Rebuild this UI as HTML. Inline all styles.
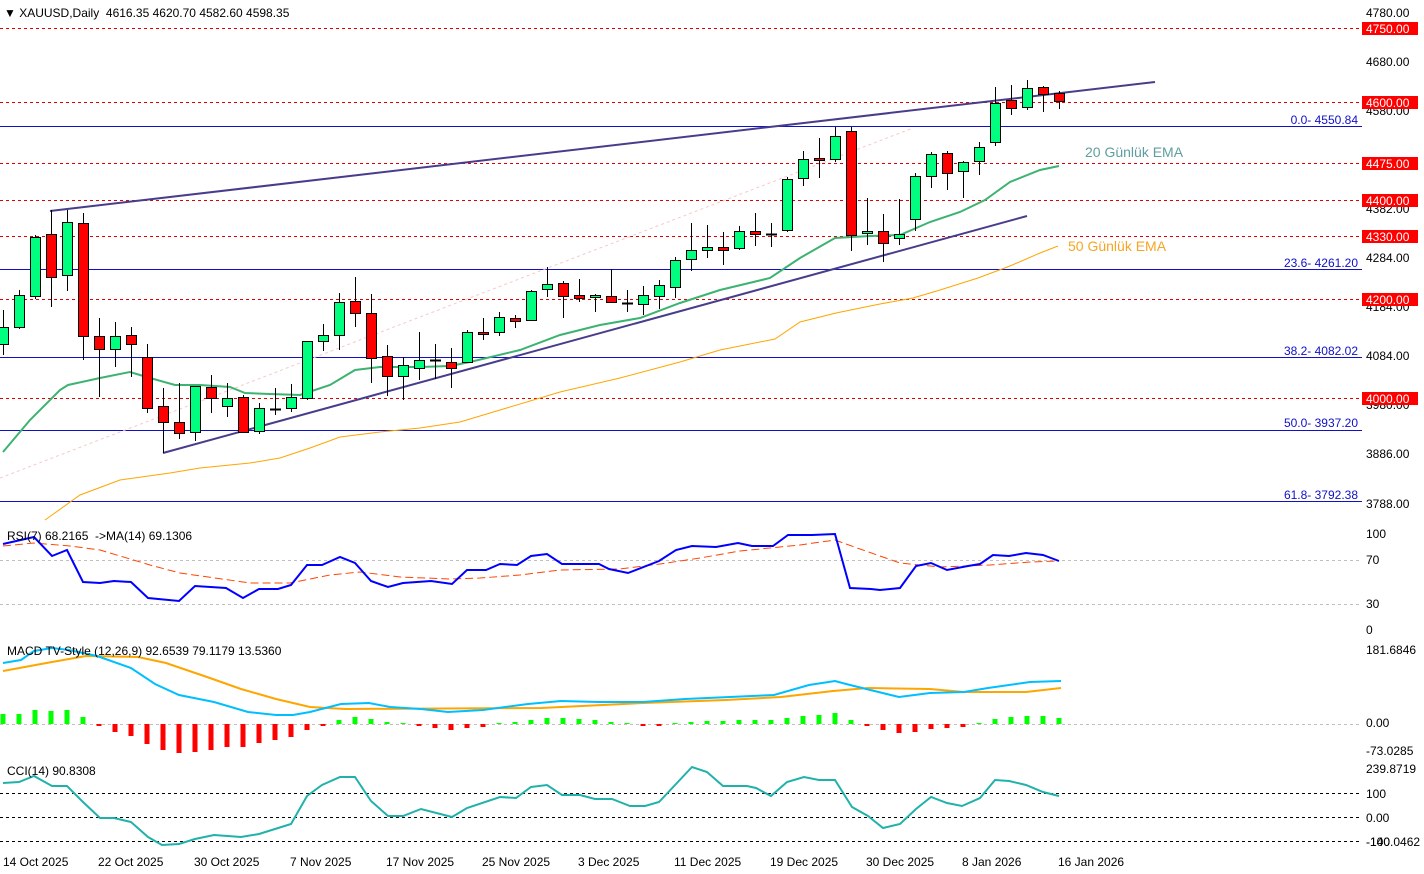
<!DOCTYPE html>
<html><head><meta charset="utf-8"><style>
html,body{margin:0;padding:0;background:#fff;}
svg{display:block;font-family:"Liberation Sans",sans-serif;}
</style></head><body>
<svg id="s" width="1424" height="874" xmlns="http://www.w3.org/2000/svg">
<rect width="1424" height="874" fill="#fff"/>
<g id="g"></g>
</svg>
<script>
const g=document.getElementById('g');let h='';
function pl(pts,c,w,extra){h+=`<polyline points="${pts.map(p=>p.join(',')).join(' ')}" fill="none" stroke="${c}" stroke-width="${w}" ${extra||''}/>`;}
function ln(x1,y1,x2,y2,c,w,extra){h+=`<line x1="${x1}" y1="${y1}" x2="${x2}" y2="${y2}" stroke="${c}" stroke-width="${w}" ${extra||''}/>`;}
function tx(x,y,t,c,s,extra){h+=`<text x="${x}" y="${y}" fill="${c||'#000'}" font-size="${s||12}" ${extra||''}>${t}</text>`;}
[28,102,163,200,236,299,398].forEach(y=>ln(0,y+.5,1362,y+.5,'#e00000',1,'stroke-dasharray="3,3"'));
[126,269,357,430,501].forEach(y=>ln(0,y+.5,1362,y+.5,'#1010c8',1));
ln(0,478,913,128,'#f7c8c8',1,'stroke-dasharray="3,3"');
pl([[3,452],[30,420],[60,390],[68,385],[100,378],[130,372],[150,378],[175,385],[200,385],[230,387],[245,393],[270,394],[300,395],[330,385],[355,370],[380,367],[420,367],[450,366],[470,362],[520,350],[560,335],[600,325],[640,318],[680,303],[720,290],[770,278],[800,258],[835,238],[870,236],[900,235],[930,222],[960,212],[985,200],[1010,182],[1040,170],[1059,166]],'#3cb371',2);
pl([[45,520],[80,495],[120,480],[170,473],[200,468],[250,463],[280,458],[310,448],[340,437],[380,432],[420,428],[460,422],[500,410],[560,392],[620,378],[680,362],[720,350],[775,339],[800,322],[836,313],[880,304],[913,298],[940,290],[978,278],[1010,266],[1040,253],[1058,246]],'#ffa500',1);
ln(50,211,1155,82,'#483d8b',2);ln(163,453,1027,216,'#483d8b',2);
const C=[[344,327,310,355],[327,295,290,329],[296,237,235,299],[234,277,210,307],[275,222,210,291],[223,336,213,360],[336,349,318,397],[349,336,322,367],[335,344,327,377],[357,408,344,413],[406,422,388,453],[422,433,383,439],[432,386,386,441],[387,398,375,413],[406,398,383,417],[397,432,395,432],[431,408,403,434],[409,409,388,415],[408,397,384,412],[398,341,341,400],[341,335,324,351],[335,302,293,350],[301,313,277,327],[313,358,294,383],[356,376,345,396],[376,365,357,400],[368,360,332,380],[360,360,344,379],[362,368,348,388],[362,332,330,363],[332,334,318,340],[332,317,312,336],[318,321,315,328],[320,291,290,321],[289,284,267,297],[283,296,281,318],[295,298,279,302],[297,295,294,312],[296,302,269,303],[303,303,290,312],[304,295,286,315],[296,285,280,309],[287,260,257,298],[259,250,223,271],[250,247,225,258],[247,250,232,265],[248,231,226,250],[231,234,213,246],[234,234,223,247],[230,179,177,232],[178,159,151,186],[158,160,138,178],[159,136,127,162],[131,235,127,251],[233,231,198,245],[231,243,214,262],[238,234,199,245],[219,176,173,231],[176,154,152,188],[153,173,151,190],[171,162,161,198],[161,147,142,175],[142,103,87,146],[100,108,85,115],[107,88,80,110],[87,94,86,112],[93,101,91,109]];
C.forEach((c,k)=>{const x=3+16*k;const[o,cl,hi,lo]=c;ln(x+.5,hi,x+.5,lo,'#000',1);
 const t=Math.min(o,cl),b=Math.max(o,cl);if(b-t<1){ln(x-5,t+.5,x+6,t+.5,'#000',2);}else{h+=`<rect x="${x-4.5}" y="${t+.5}" width="10" height="${b-t}" fill="${cl<o?'#00ff7f':'#ff0000'}" stroke="#000" stroke-width="1"/>`;}});
tx(1085,157,'20 Günlük EMA','#5f9ea0',14);tx(1068,251,'50 Günlük EMA','#f5a623',14);
[['0.0- 4550.84',124],['23.6- 4261.20',267],['38.2- 4082.02',355],['50.0- 3937.20',427],['61.8- 3792.38',499]].forEach(a=>tx(1358,a[1],a[0],'#1010c8',12,'text-anchor="end"'));
[['4780.00',17],['4680.00',66],['4580.00',115],['4382.00',213],['4284.00',262],['4184.00',311],['4084.00',360],['3980.00',409],['3886.00',458],['3788.00',508]].forEach(a=>tx(1366,a[1],a[0],'#000',12));
[['4750.00',28],['4600.00',102],['4475.00',163],['4400.00',200],['4330.00',236],['4200.00',299],['4000.00',398]].forEach(a=>{h+=`<rect x="1362" y="${a[1]-6}" width="56" height="13" fill="#ff0000"/>`;tx(1366,a[1]+5,a[0],'#fff',12);});
tx(4,17,'▼ XAUUSD,Daily  4616.35 4620.70 4582.60 4598.35','#000',12,'xml:space="preserve"');
ln(0,560.5,1362,560.5,'#c0c0c0',1,'stroke-dasharray="3,3"');ln(0,604.5,1362,604.5,'#c0c0c0',1,'stroke-dasharray="3,3"');
pl([[3,546],[34,543],[70,546],[100,550],[150,565],[180,573],[250,583],[290,583],[330,575],[360,572],[400,577],[450,579],[480,578],[520,575],[560,570],[620,569],[660,564],[700,558],[740,551],[800,545],[835,540],[860,549],[900,563],[940,567],[990,565],[1030,562],[1059,561]],'#ff4500',1,'stroke-dasharray="8,4"');
pl([[3,544],[34,537],[52,556],[67,550],[83,582],[100,583],[114,581],[131,582],[148,598],[179,601],[195,586],[226,588],[243,598],[259,589],[278,589],[291,585],[307,565],[322,565],[340,557],[355,563],[371,581],[388,587],[403,583],[431,581],[452,584],[467,570],[486,570],[500,564],[517,565],[531,556],[547,554],[562,564],[599,564],[609,569],[628,573],[659,561],[676,550],[692,546],[716,547],[738,543],[752,546],[773,546],[788,535],[812,535],[835,534],[850,588],[871,589],[880,590],[900,588],[916,566],[931,563],[947,570],[968,566],[980,564],[993,555],[1009,556],[1026,553],[1043,555],[1059,561]],'#0000ff',2);
tx(7,540,'RSI(7) 68.2165  -&gt;MA(14) 69.1306','#000',12,'xml:space="preserve"');
[['100',538],['70',564],['30',608],['0',634]].forEach(a=>tx(1366,a[1],a[0],'#000',12));
h+='<g transform="translate(0,-3)">';
ln(0,727.5,1362,727.5,'#c0c0c0',1,'stroke-dasharray="3,3"');
const H=[717,717,713,714,713,720,729,735,739,747,753,756,755,753,750,750,746,743,740,733,729,723,720,722,725,726,729,731,733,731,730,726,725,723,721,721,722,723,725,726,729,729,726,725,724,724,723,723,723,721,719,718,716,723,729,733,736,735,732,731,730,726,722,720,719,719,721];
H.forEach((y,k)=>{const x=3+16*k;const z=727;if(y<z)h+=`<rect x="${x-2.5}" y="${y}" width="5" height="${z-y}" fill="#00ff00"/>`;else h+=`<rect x="${x-2.5}" y="${z}" width="5" height="${y-z}" fill="#ff0000"/>`;});
pl([[3,674],[52,665],[86,659],[138,660],[166,666],[207,680],[241,692],[276,702],[310,710],[345,712],[541,711],[643,706],[726,703],[781,700],[833,694],[868,691],[930,692],[964,695],[1026,695],[1061,691]],'#ffa500',2);
pl([[3,666],[21,663],[34,654],[52,651],[69,653],[97,659],[131,671],[155,687],[179,698],[214,705],[248,715],[276,718],[293,718],[310,715],[341,707],[369,706],[390,710],[421,712],[448,715],[483,713],[528,707],[561,704],[599,705],[643,705],[685,702],[774,698],[809,688],[835,684],[850,688],[899,700],[930,696],[964,695],[988,691],[1030,685],[1061,684]],'#00bfff',2);
h+='</g>';
tx(7,655,'MACD TV-Style (12,26,9) 92.6539 79.1179 13.5360','#000',12);
[['181.6846',654],['0.00',727],['-73.0285',755]].forEach(a=>tx(1366,a[1],a[0],'#000',12));
[793,817,841].forEach(y=>ln(0,y+.5,1362,y+.5,'#000',1,'stroke-dasharray="3,3"'));
pl([[3,783],[19,782],[34,776],[52,786],[67,786],[83,802],[100,818],[114,818],[131,822],[148,837],[162,845],[179,844],[195,839],[214,835],[241,837],[259,834],[291,824],[307,796],[322,785],[340,777],[355,777],[371,801],[388,816],[403,816],[421,809],[452,817],[467,808],[500,797],[516,798],[531,787],[547,785],[562,795],[580,795],[595,799],[612,799],[630,806],[645,806],[659,802],[676,784],[692,767],[707,772],[723,786],[747,786],[756,788],[771,796],[787,782],[804,777],[819,780],[835,780],[852,807],[868,816],[883,828],[900,824],[916,809],[931,797],[947,803],[962,806],[980,798],[995,780],[1009,781],[1026,785],[1043,792],[1059,796]],'#20b2aa',2);
tx(7,775,'CCI(14) 90.8308','#000',12);
[['239.8719',773],['100',798],['0.00',822],['-100',846],['-140.0462',846]].forEach(a=>tx(1366,a[1],a[0],'#000',12));
[['14 Oct 2025',3],['22 Oct 2025',98],['30 Oct 2025',194],['7 Nov 2025',290],['17 Nov 2025',386],['25 Nov 2025',482],['3 Dec 2025',578],['11 Dec 2025',674],['19 Dec 2025',770],['30 Dec 2025',866],['8 Jan 2026',962],['16 Jan 2026',1058]].forEach(a=>tx(a[1],866,a[0],'#000',12));
g.innerHTML=h;
</script>
</body></html>
